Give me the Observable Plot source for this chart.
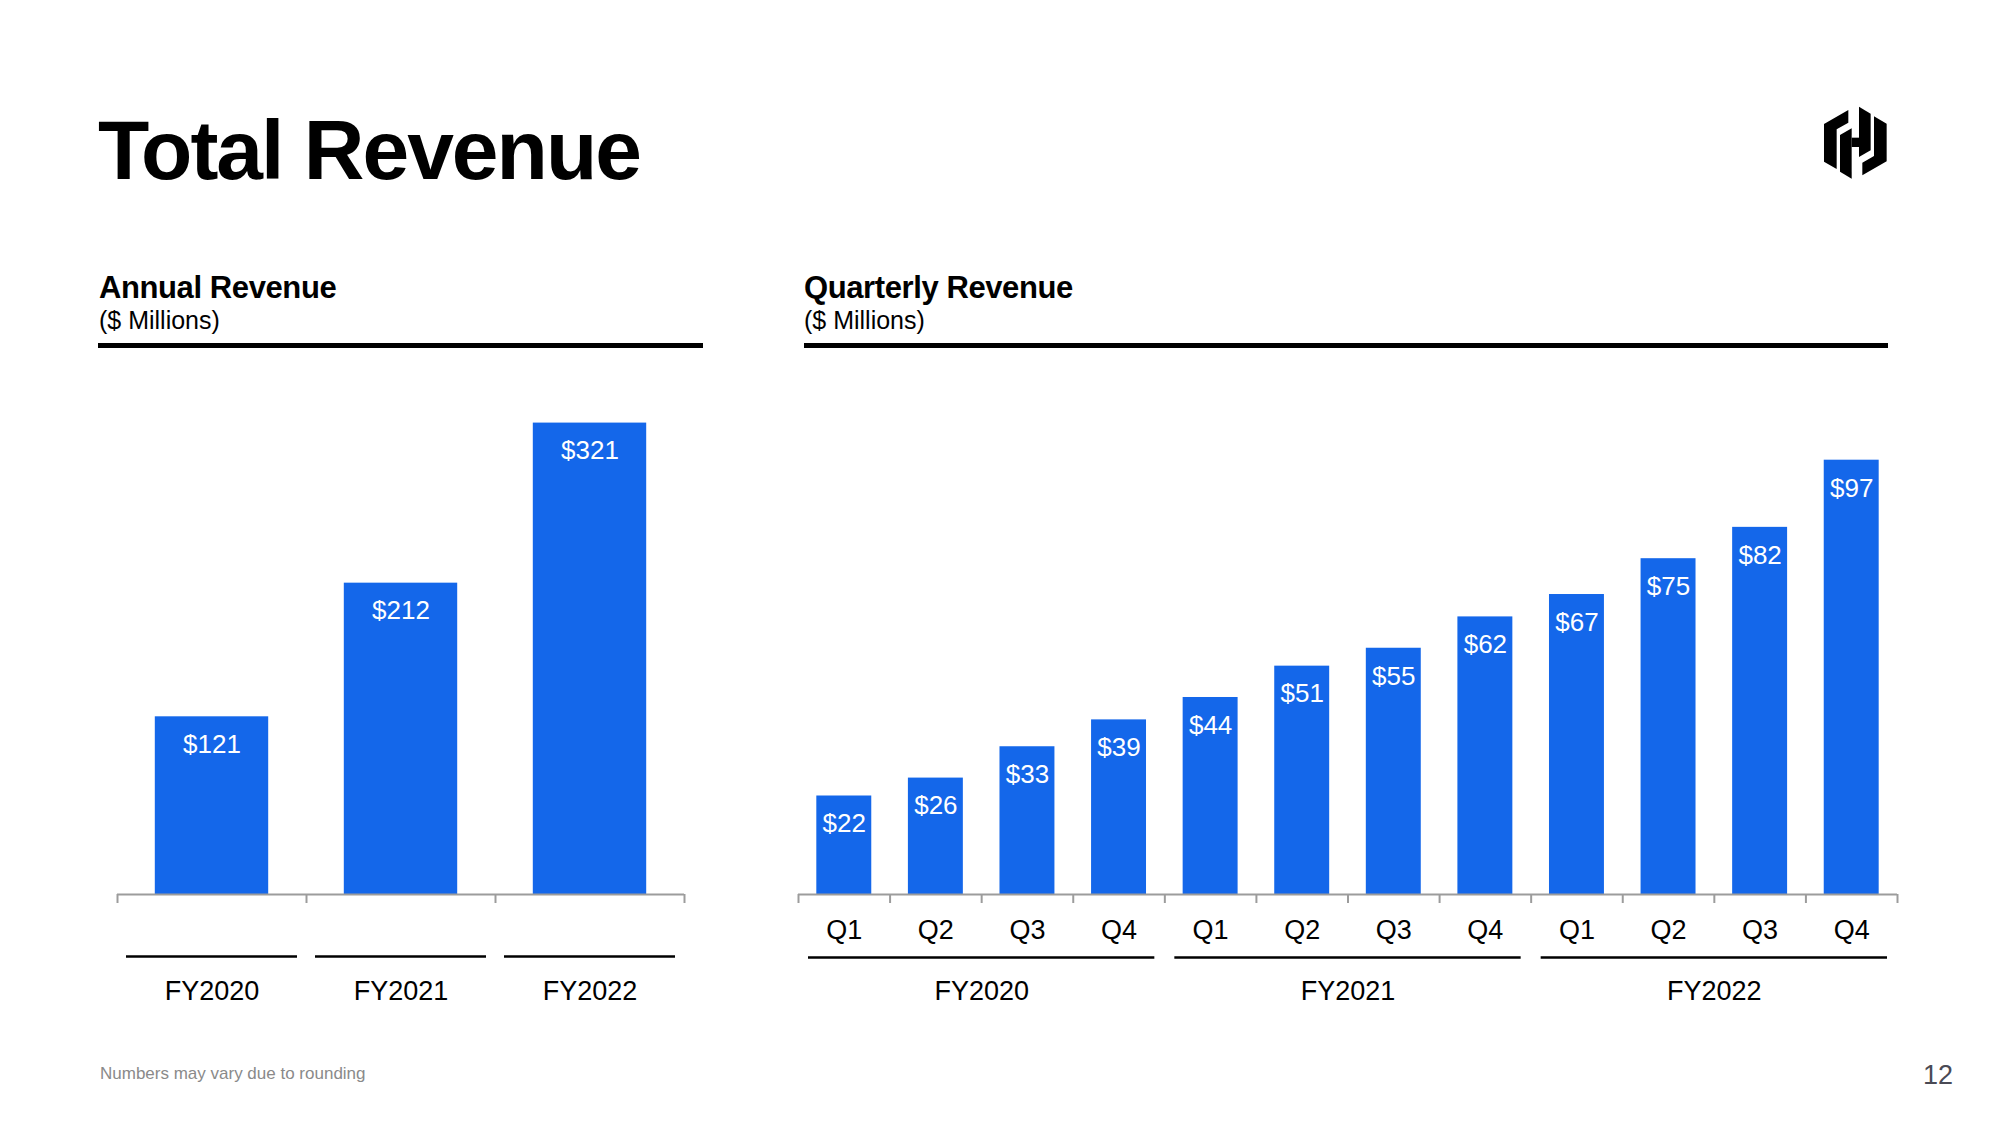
<!DOCTYPE html>
<html>
<head>
<meta charset="utf-8">
<script src="https://cdn.jsdelivr.net/npm/d3@7"></script>
<script src="https://cdn.jsdelivr.net/npm/@observablehq/plot@0.6"></script>
<style>
  html, body { margin: 0; padding: 0; background: #fff; }
  body { width: 2000px; height: 1125px; position: relative; overflow: hidden;
         font-family: "Liberation Sans", Arial, Helvetica, sans-serif; }
  #deco { position: absolute; left: 0; top: 0; }
  .panel { position: absolute; }
</style>
</head>
<body>
<svg id="deco" width="2000" height="1125" xmlns="http://www.w3.org/2000/svg"
     font-family="Liberation Sans, Arial, Helvetica, sans-serif">
  <text x="98" y="179" font-size="84" font-weight="bold" letter-spacing="-2.0" fill="#000">Total Revenue</text>

  <text x="99" y="298" font-size="31" font-weight="bold" letter-spacing="-0.4" fill="#000">Annual Revenue</text>
  <text x="99" y="329" font-size="25" fill="#000">($ Millions)</text>
  <rect x="98" y="343" width="605" height="5" fill="#000"/>

  <text x="804" y="298" font-size="31" font-weight="bold" letter-spacing="-0.4" fill="#000">Quarterly Revenue</text>
  <text x="804" y="329" font-size="25" fill="#000">($ Millions)</text>
  <rect x="804" y="343" width="1084" height="5" fill="#000"/>

  <text x="100" y="1079" font-size="17" fill="#8a8a8a">Numbers may vary due to rounding</text>
  <text x="1953" y="1084" font-size="27" text-anchor="end" fill="#4a4a55">12</text>

  <g transform="translate(1815,100) scale(0.3333)" fill="#000">
    <polygon points="27,72 100,30 100,68 65,88 65,207 27,185"/>
    <polygon points="75,105 110,85 110,236 75,215"/>
    <polygon points="110,113 132,113 132,141 110,141"/>
    <polygon points="132,20 167,41 167,151 132,171"/>
    <polygon points="215,184 142,226 142,188 177,168 177,49 215,71"/>
  </g>
</svg>

<div id="annual" class="panel" style="left:97px; top:360px;"></div>
<div id="quarterly" class="panel" style="left:778px; top:360px;"></div>

<script>
// ---- Data ----
const annualYears = ["FY2020", "FY2021", "FY2022"];
const annualValues = [121, 212, 321];

const quarterLabels = ["Q1", "Q2", "Q3", "Q4"];
const fiscalYears = ["FY2020", "FY2021", "FY2022"];
const quarterlyValues = [22, 26, 33, 39, 44, 51, 55, 62, 67, 75, 82, 97];

// ---- Styling ----
const BAR = "#1467ea";
const AXIS = "#9c9c9c";
const FONT = "Liberation Sans, Arial, Helvetica, sans-serif";

const annualRows = annualValues.map((v, i) => ({i, year: annualYears[i], value: v}));
const quarterRows = quarterlyValues.map((v, i) => ({
  i, value: v, q: quarterLabels[i % 4], fy: fiscalYears[Math.floor(i / 4)]
}));
const yearGroups = fiscalYears.map((fy, g) => ({fy, start: g * 4, end: g * 4 + 4}));

const pad = 0.2; // bar inset within each category slot

function barMarks(rows) {
  return [
    Plot.rect(rows, {
      x1: d => d.i + pad, x2: d => d.i + 1 - pad,
      y1: d => 0, y2: d => d.value, fill: BAR
    }),
    Plot.text(rows, {
      x: d => d.i + 0.5, y: d => d.value, dy: 28,
      text: d => "$" + d.value, fill: "#fff", fontSize: 26, lineAnchor: "middle"
    })
  ];
}

function axisMarks(n) {
  return [
    Plot.ruleY([0], {stroke: AXIS, strokeWidth: 2}),
    Plot.axisX({ticks: d3.range(0, n + 1), tickFormat: () => "", tickSize: 9,
                stroke: AXIS, strokeWidth: 2, label: null})
  ];
}

// ---- Annual chart ----
const annual = Plot.plot({
  width: 610, height: 654,
  marginLeft: 20, marginRight: 23, marginTop: 20, marginBottom: 120,
  style: {background: "transparent", fontFamily: FONT, overflow: "visible"},
  x: {domain: [0, annualValues.length], axis: null},
  y: {domain: [0, 350], axis: null},
  marks: [
    ...barMarks(annualRows),
    ...axisMarks(annualValues.length),
    Plot.ruleY(annualRows, {
      y: d => 0, x1: d => d.i, x2: d => d.i + 1, dy: 62,
      insetLeft: 9, insetRight: 9, stroke: "#000", strokeWidth: 2.5
    }),
    Plot.text(annualRows, {
      x: d => d.i + 0.5, y: d => 0, dy: 97, text: "year",
      fontSize: 27, fill: "#000", lineAnchor: "middle"
    })
  ]
});
document.getElementById("annual").appendChild(annual);

// ---- Quarterly chart ----
const quarterly = Plot.plot({
  width: 1139, height: 654,
  marginLeft: 20, marginRight: 20, marginTop: 20, marginBottom: 120,
  style: {background: "transparent", fontFamily: FONT, overflow: "visible"},
  x: {domain: [0, quarterlyValues.length], axis: null},
  y: {domain: [0, 114.8], axis: null},
  marks: [
    ...barMarks(quarterRows),
    ...axisMarks(quarterlyValues.length),
    Plot.text(quarterRows, {
      x: d => d.i + 0.5, y: d => 0, dy: 36, text: "q",
      fontSize: 27, fill: "#000", lineAnchor: "middle"
    }),
    Plot.ruleY(yearGroups, {
      y: d => 0, x1: "start", x2: "end", dy: 63,
      insetLeft: 10, insetRight: 10, stroke: "#000", strokeWidth: 2.5
    }),
    Plot.text(yearGroups, {
      x: d => (d.start + d.end) / 2, y: d => 0, dy: 97, text: "fy",
      fontSize: 27, fill: "#000", lineAnchor: "middle"
    })
  ]
});
document.getElementById("quarterly").appendChild(quarterly);
</script>
</body>
</html>
